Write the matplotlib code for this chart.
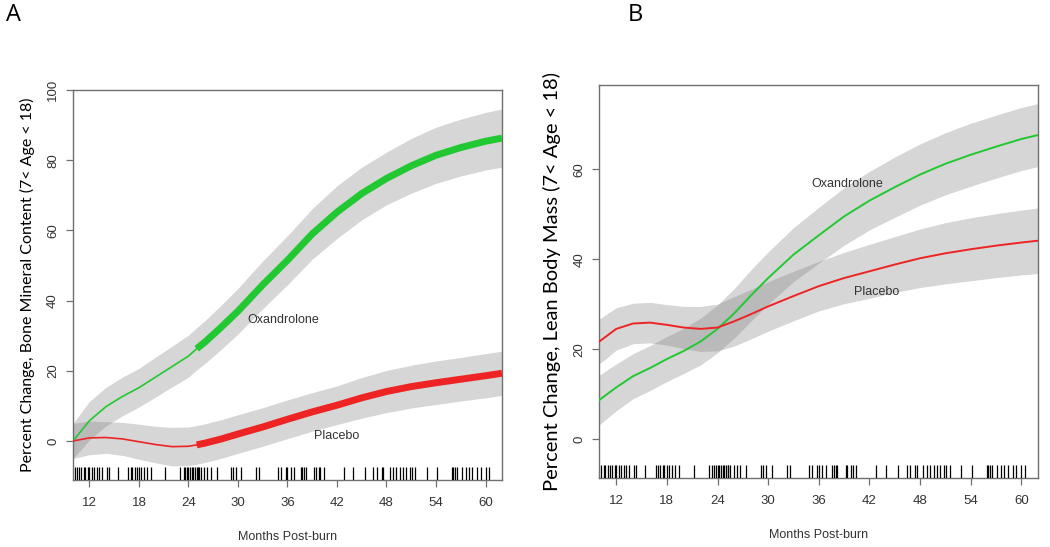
import matplotlib
matplotlib.use("Agg")
import matplotlib.pyplot as plt
import numpy as np

# ---- data ----
months_a = [10, 12, 14, 16, 18, 20, 22, 24, 25, 26, 28, 30, 33, 36, 39, 42, 45, 48, 51, 54, 57, 60, 62]
oxa_a = [0, 5.8, 9.8, 12.7, 15.2, 18.2, 21.2, 24.2, 26.3, 28.2, 32.5, 37, 44.5, 51.5, 59, 65.2, 70.5, 74.8, 78.4, 81.4, 83.6, 85.4, 86.3]
oxa_a_se = [5, 5.5, 5.5, 5.5, 5.5, 5.7, 5.8, 6, 6, 6.1, 6.3, 6.5, 6.8, 7, 7.2, 7.5, 7.5, 7.5, 7.8, 8, 8.1, 8.2, 8.3]
pla_a = [0, 0.9, 1.0, 0.6, -0.2, -1.0, -1.6, -1.5, -1.1, -0.6, 0.6, 2.0, 4.0, 6.2, 8.3, 10.2, 12.3, 14.1, 15.5, 16.6, 17.6, 18.6, 19.3]
pla_a_se = [5, 4.8, 4.5, 4.7, 5, 5.2, 5.5, 5.5, 5.5, 5.5, 5.5, 5.5, 5.5, 5.5, 5.5, 5.5, 5.8, 6, 6.1, 6.2, 6.2, 6.3, 6.3]
split_a = 25  # thin before, thick after

months_b = [10, 12, 14, 16, 18, 20, 22, 24, 26, 28, 30, 33, 36, 39, 42, 45, 48, 51, 54, 57, 60, 62]
oxa_b = [8.7, 11.5, 14, 15.8, 17.8, 19.6, 21.7, 24.5, 28, 32, 35.8, 41, 45.3, 49.5, 53, 56, 58.8, 61.2, 63.2, 65, 66.7, 67.6]
oxa_b_se = [5.5, 5.2, 5, 5, 5, 5, 5.2, 5.3, 5.5, 5.7, 5.8, 6, 6.2, 6.4, 6.5, 6.7, 6.8, 6.9, 7, 7, 7, 7]
pla_b = [21.7, 24.5, 25.7, 25.9, 25.4, 24.8, 24.5, 24.8, 26.2, 27.8, 29.5, 31.8, 34, 35.8, 37.3, 38.8, 40.2, 41.3, 42.2, 43, 43.7, 44.1]
pla_b_se = [5, 4.7, 4.5, 4.5, 4.5, 4.7, 5, 5.2, 5.5, 5.5, 5.5, 5.5, 5.5, 5.7, 6, 6.2, 6.5, 6.8, 7, 7.1, 7.2, 7.3]

rug = [10.2, 10.5, 10.7, 11.0, 11.3, 11.5, 11.8, 12.0, 12.3, 12.6, 12.9, 13.2, 13.5, 14.1, 14.4,
       15.4, 16.7, 17.0, 17.2, 17.5, 17.7, 18.0, 18.2, 18.6, 19.0, 19.4, 21.2, 23.0, 23.4, 23.6,
       23.8, 24.0, 24.2, 24.4, 24.6, 24.8, 25.0, 25.2, 25.3, 25.5, 25.9, 26.3, 26.7, 27.4, 29.2,
       29.4, 29.8, 30.4, 32.2, 32.6, 34.8, 35.2, 35.8, 36.0, 36.4, 36.8, 37.6, 37.8, 38.0, 38.2,
       39.2, 39.4, 39.8, 40.0, 40.4, 42.8, 44.0, 45.4, 46.4, 46.8, 47.4, 47.6, 48.4, 48.8, 49.2,
       49.6, 50.0, 50.4, 50.8, 51.1, 51.5, 52.9, 54.1, 55.9, 56.1, 56.3, 56.5, 57.1, 57.6, 58.0,
       58.4, 59.0, 59.4, 60.0, 60.4]

xticks = [12, 18, 24, 30, 36, 42, 48, 54, 60]
yticks_a = [0, 20, 40, 60, 80, 100]
yticks_b = [0, 20, 40, 60]

GREEN = "#22c832"
RED = "#ee2424"
BAND = "#808080"
TICK_FONT = "Liberation Sans"
LABEL_FONT = "Lato"


def band(ax, x, y, se):
    y = np.asarray(y)
    se = np.asarray(se)
    ax.fill_between(x, y - se, y + se, color=BAND, alpha=0.32, lw=0, zorder=1)


def style(ax, ylim, yticks, ylabel, ysize, ypad):
    ax.set_xlim(10, 62)
    ax.set_ylim(*ylim)
    ax.set_xticks(xticks)
    ax.set_yticks(yticks)
    for s in ax.spines.values():
        s.set_color("#707070")
        s.set_linewidth(1.0)
    ax.tick_params(direction="out", length=5, width=0.9, color="#707070",
                   labelsize=9.5, labelcolor="#333333")
    ax.tick_params(axis="x", pad=7)
    ax.tick_params(axis="y", pad=5)
    for lab in ax.get_xticklabels() + ax.get_yticklabels():
        lab.set_fontfamily(TICK_FONT)
    for lab in ax.get_yticklabels():
        lab.set_rotation(90)
        lab.set_va("center")
    ax.set_xlabel("Months Post-burn", fontsize=9, color="#333333",
                  fontfamily=TICK_FONT, labelpad=16)
    ax.set_ylabel(ylabel, fontsize=ysize, fontfamily=LABEL_FONT, color="black", labelpad=ypad)
    ax.vlines(rug, 0, 0.034, transform=ax.get_xaxis_transform(), color="black", lw=0.9, zorder=3)


fig = plt.figure(figsize=(10.5, 5.47), dpi=100)
ax1 = fig.add_axes([0.0695, 0.1225, 0.4086, 0.713])
ax2 = fig.add_axes([0.5708, 0.1256, 0.418, 0.719])

# panel A
band(ax1, months_a, oxa_a, oxa_a_se)
band(ax1, months_a, pla_a, pla_a_se)
i = months_a.index(split_a)
ax1.plot(months_a[:i + 1], oxa_a[:i + 1], color=GREEN, lw=1.2, zorder=4)
ax1.plot(months_a[i:], oxa_a[i:], color=GREEN, lw=5, solid_capstyle="butt", zorder=4)
ax1.plot(months_a[:i + 1], pla_a[:i + 1], color=RED, lw=1.2, zorder=4)
ax1.plot(months_a[i:], pla_a[i:], color=RED, lw=5, solid_capstyle="butt", zorder=4)
ax1.text(35.5, 34.6, "Oxandrolone", fontsize=9, color="#333333", fontfamily=TICK_FONT,
         ha="center", va="center")
ax1.text(42, 1.4, "Placebo", fontsize=9, color="#333333", fontfamily=TICK_FONT,
         ha="center", va="center")
style(ax1, (-11.1, 100), yticks_a, "Percent Change, Bone Mineral Content (7< Age < 18)", 11.5, 9)

# panel B
band(ax2, months_b, oxa_b, oxa_b_se)
band(ax2, months_b, pla_b, pla_b_se)
ax2.plot(months_b, oxa_b, color=GREEN, lw=1.4, zorder=4)
ax2.plot(months_b, pla_b, color=RED, lw=1.4, zorder=4)
ax2.text(39.4, 56.7, "Oxandrolone", fontsize=9, color="#333333", fontfamily=TICK_FONT,
         ha="center", va="center")
ax2.text(42.8, 32.7, "Placebo", fontsize=9, color="#333333", fontfamily=TICK_FONT,
         ha="center", va="center")
style(ax2, (-8.7, 78.7), yticks_b, "Percent Change, Lean Body Mass (7< Age < 18)", 14.5, 9)

fig.text(0.006, 0.972, "A", fontsize=17, fontfamily="Open Sans", va="center", ha="left")
fig.text(0.598, 0.972, "B", fontsize=17, fontfamily="Open Sans", va="center", ha="left")

fig.savefig("out.png", dpi=100)
